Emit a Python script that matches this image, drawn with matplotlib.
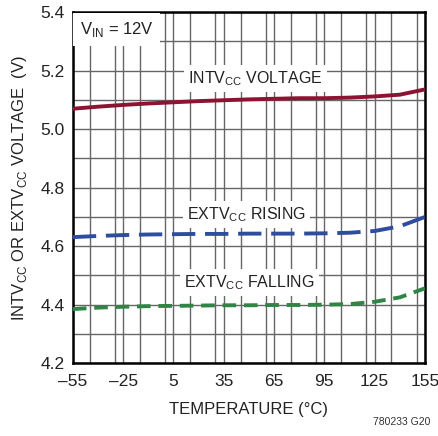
import matplotlib
matplotlib.use("Agg")
import matplotlib.pyplot as plt
from matplotlib.ticker import MultipleLocator

plt.rcParams['font.family'] = ['Liberation Sans', 'DejaVu Sans']
plt.rcParams['mathtext.fontset'] = 'custom'
plt.rcParams['mathtext.rm'] = 'Liberation Sans'

# datos
temp = [-55, -40, -25, -10, 5, 20, 35, 50, 65, 80, 95, 110, 125, 140, 155]
intv = [5.070, 5.077, 5.083, 5.088, 5.092, 5.096, 5.099, 5.102, 5.104, 5.106, 5.106, 5.108, 5.112, 5.118, 5.136]
ext_rising = [4.631, 4.635, 4.638, 4.640, 4.641, 4.642, 4.642, 4.643, 4.643, 4.643, 4.644, 4.646, 4.652, 4.668, 4.700]
ext_falling = [4.385, 4.390, 4.393, 4.395, 4.396, 4.397, 4.398, 4.398, 4.399, 4.399, 4.400, 4.402, 4.410, 4.425, 4.456]

xticks = [-55, -25, 5, 35, 65, 95, 125, 155]
yticks = [4.2, 4.4, 4.6, 4.8, 5.0, 5.2, 5.4]

fig = plt.figure(figsize=(4.39, 4.36), dpi=100)
ax = fig.add_axes([0.166, 0.167, 0.802, 0.805])

ax.plot(temp, intv, color="#8e1232", lw=2.8, zorder=3)
ax.plot(temp, ext_rising, color="#2f4d9e", lw=2.8, dashes=(6, 2.5), zorder=3)
ax.plot(temp, ext_falling, color="#2f8543", lw=2.8, dashes=(3.5, 2), zorder=3)

ax.set_xlim(-55, 155)
ax.set_ylim(4.2, 5.4)
ax.set_xticks(xticks)
ax.set_xticklabels([str(t).replace("-", "\u2013") for t in xticks])
ax.set_yticks(yticks)
ax.set_yticklabels([f"{v:.1f}" for v in yticks])
ax.xaxis.set_minor_locator(MultipleLocator(15))
ax.yaxis.set_minor_locator(MultipleLocator(0.1))
ax.grid(True, which="both", color="#666666", lw=1.0)
ax.tick_params(which="both", length=0, labelsize=12.5, colors="#222222")
ax.tick_params(axis="x", pad=8)
ax.tick_params(axis="y", pad=6)
for s in ax.spines.values():
    s.set_linewidth(1.8)
    s.set_color("black")

ax.set_xlabel("TEMPERATURE (\u00b0C)", fontsize=12, color="#222222", labelpad=9)
ax.set_ylabel("INTV$_{\\rm CC}$ OR EXTV$_{\\rm CC}$ VOLTAGE  (V)", fontsize=12, color="#222222", labelpad=8)

box = dict(facecolor="white", edgecolor="none", pad=3)
ax.text(-51, 5.342, "V$_{\\rm IN}$ = 12V", fontsize=12, color="#222222", va="center", ha="left", bbox=dict(facecolor="white", edgecolor="none", pad=5), zorder=4)
ax.text(54, 5.173, "INTV$_{\\rm CC}$ VOLTAGE", fontsize=11.5, color="#222222", va="center", ha="center", bbox=box, zorder=4)
ax.text(48.5, 4.709, "EXTV$_{\\rm CC}$ RISING", fontsize=11.5, color="#222222", va="center", ha="center", bbox=box, zorder=4)
ax.text(50.5, 4.475, "EXTV$_{\\rm CC}$ FALLING", fontsize=11.5, color="#222222", va="center", ha="center", bbox=box, zorder=4)

fig.text(0.98, 0.02, "780233 G20", fontsize=7.5, color="#333333", ha="right", va="bottom")

fig.savefig("out.png", dpi=100)
